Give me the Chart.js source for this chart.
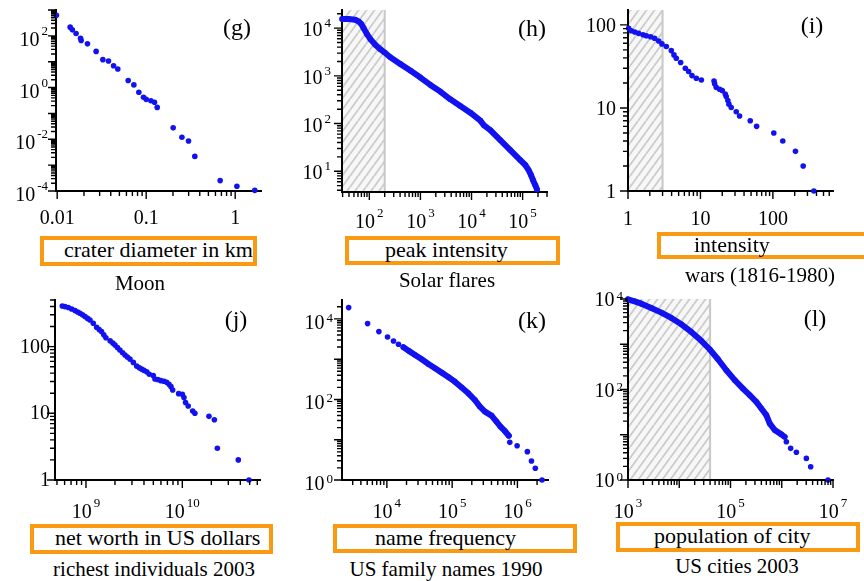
<!DOCTYPE html>
<html lang="en">
<head>
<meta charset="utf-8">
<title>Heavy-tailed distributions</title>
<script src="https://cdn.jsdelivr.net/npm/chart.js@4.4.1/dist/chart.umd.min.js"></script>
<style>
  html, body { margin: 0; padding: 0; background: #fff; }
  body {
    position: relative; width: 864px; height: 581px; overflow: hidden;
    font-family: "Liberation Serif", "Times New Roman", serif; color: #000;
  }
  canvas { position: absolute; }
  .box {
    position: absolute; box-sizing: border-box;
    border: 4px solid #f99a12; white-space: nowrap; font-size: 22px;
  }
  .box span { position: absolute; top: 50%; transform: translateY(-52%); }
  .cap { position: absolute; font-size: 21px; white-space: nowrap; transform: translate(-50%, -50%); }
  .tag { position: absolute; font-size: 24px; transform: translate(-50%, -50%); }
</style>
</head>
<body>

<div class="tag" style="left:237px; top:27px">(g)</div>
<div class="tag" style="left:532px; top:28px">(h)</div>
<div class="tag" style="left:812px; top:25px">(i)</div>
<div class="tag" style="left:236px; top:319px">(j)</div>
<div class="tag" style="left:532px; top:320px">(k)</div>
<div class="tag" style="left:815px; top:318px">(l)</div>

<div class="box" style="left:40px; top:236px; width:217px; height:30px"><span style="left:20px">crater diameter in km</span></div>
<div class="box" style="left:345px; top:236px; width:215px; height:29px"><span style="left:36px">peak intensity</span></div>
<div class="box" style="left:657px; top:232px; width:230px; height:27px"><span style="left:33px">intensity</span></div>
<div class="box" style="left:30px; top:524px; width:243px; height:30px"><span style="left:21px">net worth in US dollars</span></div>
<div class="box" style="left:333px; top:524px; width:244px; height:29px"><span style="left:38px">name frequency</span></div>
<div class="box" style="left:616px; top:522px; width:244px; height:30px"><span style="left:34px">population of city</span></div>

<div class="cap" style="left:140px; top:283px">Moon</div>
<div class="cap" style="left:447px; top:280px">Solar flares</div>
<div class="cap" style="left:760px; top:275px">wars (1816-1980)</div>
<div class="cap" style="left:154px; top:569px">richest individuals 2003</div>
<div class="cap" style="left:446px; top:569px">US family names 1990</div>
<div class="cap" style="left:737px; top:566px">US cities 2003</div>

<script>
// ---- data: cumulative counts against size, one pair of arrays per panel ----

// (g) lunar craters
const craterDiameter = [0.0098, 0.0140, 0.0148, 0.0163, 0.0183, 0.0186, 0.0219, 0.0274, 0.0326, 0.0377,
  0.043, 0.048, 0.0628, 0.0727, 0.0827, 0.0933, 0.100, 0.113, 0.124, 0.133,
  0.201, 0.252, 0.299, 0.352, 0.678, 1.045, 1.66];
const craterCount = [620, 217, 171, 124, 81, 66, 49, 25, 12, 10.6,
  7.0, 5.2, 1.87, 1.27, 0.66, 0.42, 0.35, 0.31, 0.27, 0.171,
  0.0277, 0.012, 0.0086, 0.00218, 0.000253, 0.000152, 0.000106];
const craterXTicks = [0.01, 0.1, 1];
const craterYExps = [-4, -2, 0, 2];

// (h) solar flares
const flareIntensity = [29.5, 39.5, 53, 62, 69, 77.5, 90, 105, 131, 164,
  200, 257, 404, 634, 1000, 1565, 2450, 3850, 6040, 9480,
  14900, 17300, 23300, 36600, 57400, 90000, 113000, 131000, 146000, 160000,
  177000, 191000];
const flareCount = [15500, 15500, 14960, 13800, 12330, 10000, 7480, 5880, 4470, 3620,
  3080, 2460, 1780, 1290, 920, 646, 468, 322, 233, 169,
  115, 93, 73, 45, 27.8, 17.1, 13.5, 10.6, 8.3, 6.5,
  5.1, 4.15];
const flareCutoff = 200;
const flareXExps = [2, 3, 4, 5];
const flareYExps = [1, 2, 3, 4];

// (i) wars
const warIntensity = [1.02, 1.11, 1.24, 1.40, 1.61, 1.79, 2.05, 2.33, 2.65, 2.94,
  3.38, 3.96, 4.31, 4.64, 5.33, 6.18, 6.87, 7.64, 8.77, 10.3,
  15.4, 15.7, 16.5, 18.4, 20, 22, 22.7, 23.9, 24.7, 26.6,
  31.2, 34.7, 48.7, 59.6, 103, 137, 205, 262, 368];
const warCount = [91, 85, 82, 79, 76, 74, 72, 69, 64, 59,
  55, 49, 43.5, 39.7, 35.2, 30.1, 27.4, 24.5, 22.8, 21.7,
  21.1, 19.5, 17.7, 16.8, 16.2, 14.7, 13.7, 12.3, 11.1, 10.1,
  9, 8, 7, 6, 5, 4, 3, 2, 1];
const warCutoff = 3;
const warXTicks = [1, 10, 100];
const warYTicks = [1, 10, 100];

// (j) richest individuals
const netWorth = [5.68e8, 6.05e8, 6.56e8, 7.1e8, 7.69e8, 8.2e8, 8.67e8, 9.2e8, 9.77e8, 1.04e9,
  1.1e9, 1.19e9, 1.29e9, 1.37e9, 1.45e9, 1.53e9, 1.61e9, 1.78e9, 1.9e9, 2.0e9,
  2.12e9, 2.25e9, 2.4e9, 2.54e9, 2.69e9, 2.86e9, 3.1e9, 3.36e9, 3.58e9, 3.78e9,
  4.0e9, 4.27e9, 4.54e9, 5.0e9, 5.2e9, 5.58e9, 6.0e9, 6.46e9, 6.88e9, 7.27e9,
  7.63e9, 7.94e9, 9.16e9, 1.0e10, 1.04e10, 1.08e10, 1.15e10, 1.28e10, 1.35e10, 1.89e10,
  2.15e10, 2.31e10, 3.81e10, 4.92e10];
const richCount = [407, 398, 385, 367, 347, 330, 316, 300, 282, 265,
  251, 224, 195, 180, 168, 150, 136, 122, 113, 106,
  97, 89, 81, 75, 70, 65, 58, 51, 48, 46,
  44, 42, 38.5, 36.7, 32.7, 32, 30.9, 30.2, 29.2, 27.2,
  25.1, 22.4, 19.7, 19.3, 17.2, 14.5, 12.9, 10.8, 10, 9,
  8, 3, 2, 1];
const richXExps = [9, 10];
const richYTicks = [1, 10, 100];

// (k) family names
const nameFrequency = [2600, 5070, 7550, 10240, 12640, 15070, 17960, 21400, 27100, 34200,
  43300, 54700, 69200, 87300, 110000, 140000, 177000, 223000, 266000, 318000,
  401000, 478000, 550000, 641000, 738000, 764000, 989000, 1420000, 1640000, 1880000,
  2380000];
const nameCount = [19100, 7660, 4840, 3570, 2840, 2350, 1980, 1630, 1275, 996,
  762, 594, 464, 362, 277, 197, 142, 97, 66.4, 49.9,
  39.6, 28.1, 21.1, 16.5, 12.6, 8.6, 7.1, 5.06, 2.97, 1.95,
  1];
const nameXExps = [4, 5, 6];
const nameYExps = [0, 2, 4];

// (l) US cities
const cityPopulation = [1000, 1350, 1820, 2850, 4470, 7010, 11000, 17200, 27000, 39200,
  57000, 83000, 121000, 175000, 237000, 319000, 400000, 500000, 581000, 728000,
  982000, 1140000, 1230000, 1490000, 1930000, 3020000, 3670000, 7980000];
const cityCount = [9840, 8890, 7890, 6330, 5000, 3810, 2760, 1870, 1190, 776,
  467, 267, 161, 105, 75, 53.4, 38.1, 27.2, 17.8, 12.7,
  10.2, 9, 7, 5, 4.1, 3, 1.97, 1];
const cityCutoff = 40000;
const cityXExps = [3, 5, 7];
const cityYExps = [0, 2, 4];

// ---- drawing ----

const BLUE = '#1212f0';
const SERIF = '"Liberation Serif", "Times New Roman", serif';

const panels = [
  { left: 0, top: 0, width: 285, height: 235, plot: { L: 56, T: 10, R: 261, B: 191 },
    xMin: 0.0097, xMax: 1.95, yMin: 1e-4, yMax: 1e3,
    xs: craterDiameter, ys: craterCount,
    xLabels: { plain: craterXTicks }, xBase: 224,
    yLabels: { pow: craterYExps }, yRight: 48, yDrop: 10, yRaise: 11 },
  { left: 286, top: 0, width: 286, height: 235, plot: { L: 342, T: 10, R: 547, B: 192 },
    xMin: 29.2, xMax: 3.0e5, yMin: 3.67, yMax: 2.4e4,
    xs: flareIntensity, ys: flareCount, dense: [0, flareIntensity.length - 1], hatchTo: flareCutoff,
    xLabels: { pow: flareXExps }, xBase: 228,
    yLabels: { pow: flareYExps }, yRight: 331, yDrop: 8, yRaise: 9 },
  { left: 574, top: 0, width: 290, height: 235, plot: { L: 628, T: 10, R: 833, B: 191 },
    xMin: 1, xMax: 676, yMin: 1, yMax: 151,
    xs: warIntensity, ys: warCount, hatchTo: warCutoff,
    xLabels: { plain: warXTicks }, xBase: 225,
    yLabels: { plain: warYTicks }, yRight: 616, yDrop: 7 },
  { left: 0, top: 282, width: 285, height: 240, plot: { L: 55, T: 300, R: 260, B: 480 },
    xMin: 4.77e8, xMax: 6.4e10, yMin: 1, yMax: 500,
    xs: netWorth, ys: richCount,
    xLabels: { pow: richXExps }, xBase: 518,
    yLabels: { plain: richYTicks }, yRight: 50, yDrop: 6 },
  { left: 286, top: 282, width: 286, height: 240, plot: { L: 342, T: 300, R: 548, B: 480 },
    xMin: 2055, xMax: 2.94e6, yMin: 1, yMax: 2.95e4,
    xs: nameFrequency, ys: nameCount, dense: [6, 24],
    xLabels: { pow: nameXExps }, xBase: 518,
    yLabels: { pow: nameYExps }, yRight: 333, yDrop: 10, yRaise: 7 },
  { left: 574, top: 282, width: 290, height: 240, plot: { L: 628, T: 299, R: 833, B: 480 },
    xMin: 1e3, xMax: 1e7, yMin: 1, yMax: 1e4,
    xs: cityPopulation, ys: cityCount, dense: [0, 21], hatchTo: cityCutoff,
    xLabels: { pow: cityXExps }, xBase: 518,
    yLabels: { pow: cityYExps }, yRight: 623, yDrop: 7, yRaise: 6 }
];

function hatchPattern(ctx) {
  const c = document.createElement('canvas');
  c.width = 8; c.height = 11;
  const g = c.getContext('2d');
  g.fillStyle = '#f7f7f7';
  g.fillRect(0, 0, 8, 11);
  g.strokeStyle = '#cbcbcb';
  g.lineWidth = 1.8;
  g.beginPath();
  for (const dx of [-8, 0, 8]) { g.moveTo(dx, 11); g.lineTo(dx + 8, 0); }
  g.stroke();
  return ctx.createPattern(c, 'repeat');
}

// 1..9 x 10^n positions inside [min, max]
function logTicks(min, max) {
  const out = [];
  for (let e = Math.floor(Math.log10(min)); e <= Math.ceil(Math.log10(max)); e++) {
    for (let m = 1; m <= 9; m++) {
      const v = m * Math.pow(10, e);
      if (v >= min * 0.999 && v <= max * 1.001) out.push({ v, major: m === 1 });
    }
  }
  return out;
}

// "10" with a raised exponent
function powText(ctx, exp, x, base, align, raise) {
  ctx.font = '20px ' + SERIF;
  const wb = ctx.measureText('10').width;
  ctx.font = '13px ' + SERIF;
  const es = String(exp);
  const we = ctx.measureText(es).width;
  const w = wb + 2 + we;
  const left = align === 'center' ? x - w / 2 : x - w;
  ctx.font = '20px ' + SERIF;
  ctx.fillText('10', left, base);
  ctx.font = '13px ' + SERIF;
  ctx.fillText(es, left + wb + 2, base - raise);
}

function plainText(ctx, v, x, base, align) {
  ctx.font = '20px ' + SERIF;
  ctx.textAlign = align;
  ctx.fillText(String(v), x, base);
  ctx.textAlign = 'left';
}

function axesPlugin(p) {
  return {
    id: 'logAxes',
    beforeDraw(chart) {
      if (!p.hatchTo) return;
      const { ctx, chartArea: a, scales: { x } } = chart;
      const x1 = x.getPixelForValue(p.hatchTo);
      ctx.save();
      ctx.fillStyle = hatchPattern(ctx);
      ctx.fillRect(a.left, a.top, x1 - a.left, a.bottom - a.top);
      ctx.strokeStyle = '#c8c8c8';
      ctx.lineWidth = 2;
      ctx.beginPath();
      ctx.moveTo(x1, a.top);
      ctx.lineTo(x1, a.bottom);
      ctx.stroke();
      ctx.restore();
    },
    afterDraw(chart) {
      const { ctx, scales: { x, y } } = chart;
      ctx.save();
      ctx.strokeStyle = '#000';
      ctx.lineWidth = 1.4;
      ctx.beginPath();
      logTicks(x.min, x.max).forEach(t => {
        const px = x.getPixelForValue(t.v);
        ctx.moveTo(px, x.top);
        ctx.lineTo(px, x.top + (t.major ? 8 : 5));
      });
      logTicks(y.min, y.max).forEach(t => {
        const py = y.getPixelForValue(t.v);
        ctx.moveTo(y.right, py);
        ctx.lineTo(y.right - (t.major ? 8 : 5), py);
      });
      ctx.stroke();

      ctx.fillStyle = '#000';
      ctx.textBaseline = 'alphabetic';
      ctx.textAlign = 'left';
      const xb = p.xBase - p.top;
      if (p.xLabels.pow) {
        p.xLabels.pow.forEach(e => powText(ctx, e, x.getPixelForValue(Math.pow(10, e)), xb, 'center', 11));
      } else {
        p.xLabels.plain.forEach(v => plainText(ctx, v, x.getPixelForValue(v), xb, 'center'));
      }
      const yr = p.yRight - p.left;
      if (p.yLabels.pow) {
        p.yLabels.pow.forEach(e => powText(ctx, e, yr, y.getPixelForValue(Math.pow(10, e)) + p.yDrop, 'right', p.yRaise));
      } else {
        p.yLabels.plain.forEach(v => plainText(ctx, v, yr, y.getPixelForValue(v) + p.yDrop, 'right'));
      }
      ctx.restore();
    }
  };
}

function drawPanel(p) {
  const cv = document.createElement('canvas');
  cv.width = p.width;
  cv.height = p.height;
  Object.assign(cv.style, {
    left: p.left + 'px', top: p.top + 'px', width: p.width + 'px', height: p.height + 'px'
  });
  document.body.insertBefore(cv, document.body.firstChild);

  const pts = p.xs.map((x, i) => ({ x, y: p.ys[i] }));
  const datasets = [];
  if (p.dense) {
    // the crowded stretch of the curve reads as one thick band
    datasets.push({
      data: pts.slice(p.dense[0], p.dense[1] + 1),
      showLine: true, borderColor: BLUE, borderWidth: 6,
      borderCapStyle: 'round', borderJoinStyle: 'round',
      pointRadius: 0, clip: false
    });
  }
  datasets.push({
    data: pts, pointRadius: 2.8, pointBackgroundColor: BLUE,
    pointBorderWidth: 0, clip: false
  });

  const axis = (min, max, pos) => ({
    type: 'logarithmic', position: pos, min, max,
    grid: { drawOnChartArea: false, drawTicks: false },
    border: { color: '#000', width: 2 },
    ticks: { display: false }
  });
  const xAxis = axis(p.xMin, p.xMax, 'bottom');
  xAxis.afterFit = s => { s.height = p.top + p.height - p.plot.B; };
  const yAxis = axis(p.yMin, p.yMax, 'left');
  yAxis.afterFit = s => { s.width = p.plot.L - p.left; };

  new Chart(cv, {
    type: 'scatter',
    data: { datasets },
    options: {
      responsive: false,
      animation: false,
      events: [],
      layout: { padding: { left: 0, bottom: 0, top: p.plot.T - p.top, right: p.left + p.width - p.plot.R } },
      plugins: { legend: { display: false }, tooltip: { enabled: false } },
      scales: { x: xAxis, y: yAxis }
    },
    plugins: [axesPlugin(p)]
  });
}

panels.forEach(drawPanel);
</script>
</body>
</html>
